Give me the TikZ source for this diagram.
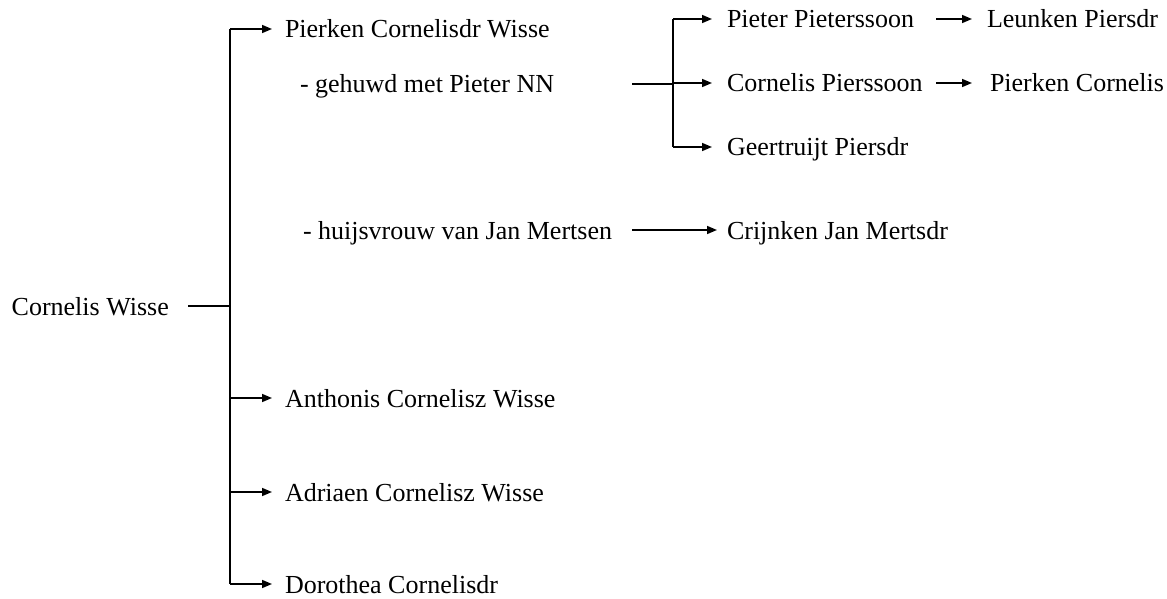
\documentclass[tikz,border=0pt]{standalone}
\usepackage{fontspec}
\setmainfont{Liberation Serif}
\usetikzlibrary{arrows.meta}
\begin{document}
\begin{tikzpicture}[x=1pt,y=-1pt,
 lbl/.style={anchor=west,inner sep=0pt,outer sep=0pt,text height=18pt,text depth=0pt,font=\fontsize{26}{30}\selectfont},
 ln/.style={line width=1.6pt},
 arr/.style={ln,-{Triangle[length=10pt,width=8pt]}}]
\useasboundingbox (0,0) rectangle (1167,599);
% nodes
\node[lbl] (cw) at (11.7,306) {Cornelis Wisse};
\coordinate (cwl) at (188,0);
\coordinate (trunk) at (230,0);
\node[lbl] (pcw) at (285,29) {Pierken Cornelisdr Wisse};
\node[lbl] (geh) at (300,84) {- gehuwd met Pieter NN};
\node[lbl] (huy) at (303,230) {- huijsvrouw van Jan Mertsen};
\node[lbl] (ant) at (285,398) {Anthonis Cornelisz Wisse};
\node[lbl] (adr) at (285,492) {Adriaen Cornelisz Wisse};
\node[lbl] (dor) at (285,584) {Dorothea Cornelisdr};
\coordinate (sub) at (673,0);
\coordinate (spouse) at (632,0);
\node[lbl] (pp) at (727,19) {Pieter Pieterssoon};
\node[lbl] (cp) at (727,83) {Cornelis Pierssoon};
\node[lbl] (gp) at (727,147) {Geertruijt Piersdr};
\node[lbl] (cjm) at (727,230) {Crijnken Jan Mertsdr};
\coordinate (gen3) at (936,0);
\node[lbl] (lp) at (987,19) {Leunken Piersdr};
\node[lbl] (pc) at (990,83) {Pierken Cornelis};
% connectors
\draw[ln] (cw.west -| cwl) -- (cw.west -| trunk);
\draw[ln] (pcw.west -| trunk) -- (dor.west -| trunk);
\foreach \n in {pcw,ant,adr,dor} \draw[arr] (\n.west -| trunk) -- ([xshift=-13pt]\n.west);
\draw[ln] (geh.west -| spouse) -- (geh.west -| sub);
\draw[ln] (pp.west -| sub) -- (gp.west -| sub);
\foreach \n in {pp,cp,gp} \draw[arr] (\n.west -| sub) -- ([xshift=-15pt]\n.west);
\draw[arr] (huy.west -| spouse) -- ([xshift=-10pt]cjm.west);
\draw[arr] (pp.west -| gen3) -- ([xshift=-15pt]lp.west);
\draw[arr] (cp.west -| gen3) -- ([xshift=-18pt]pc.west);
\end{tikzpicture}
\end{document}
